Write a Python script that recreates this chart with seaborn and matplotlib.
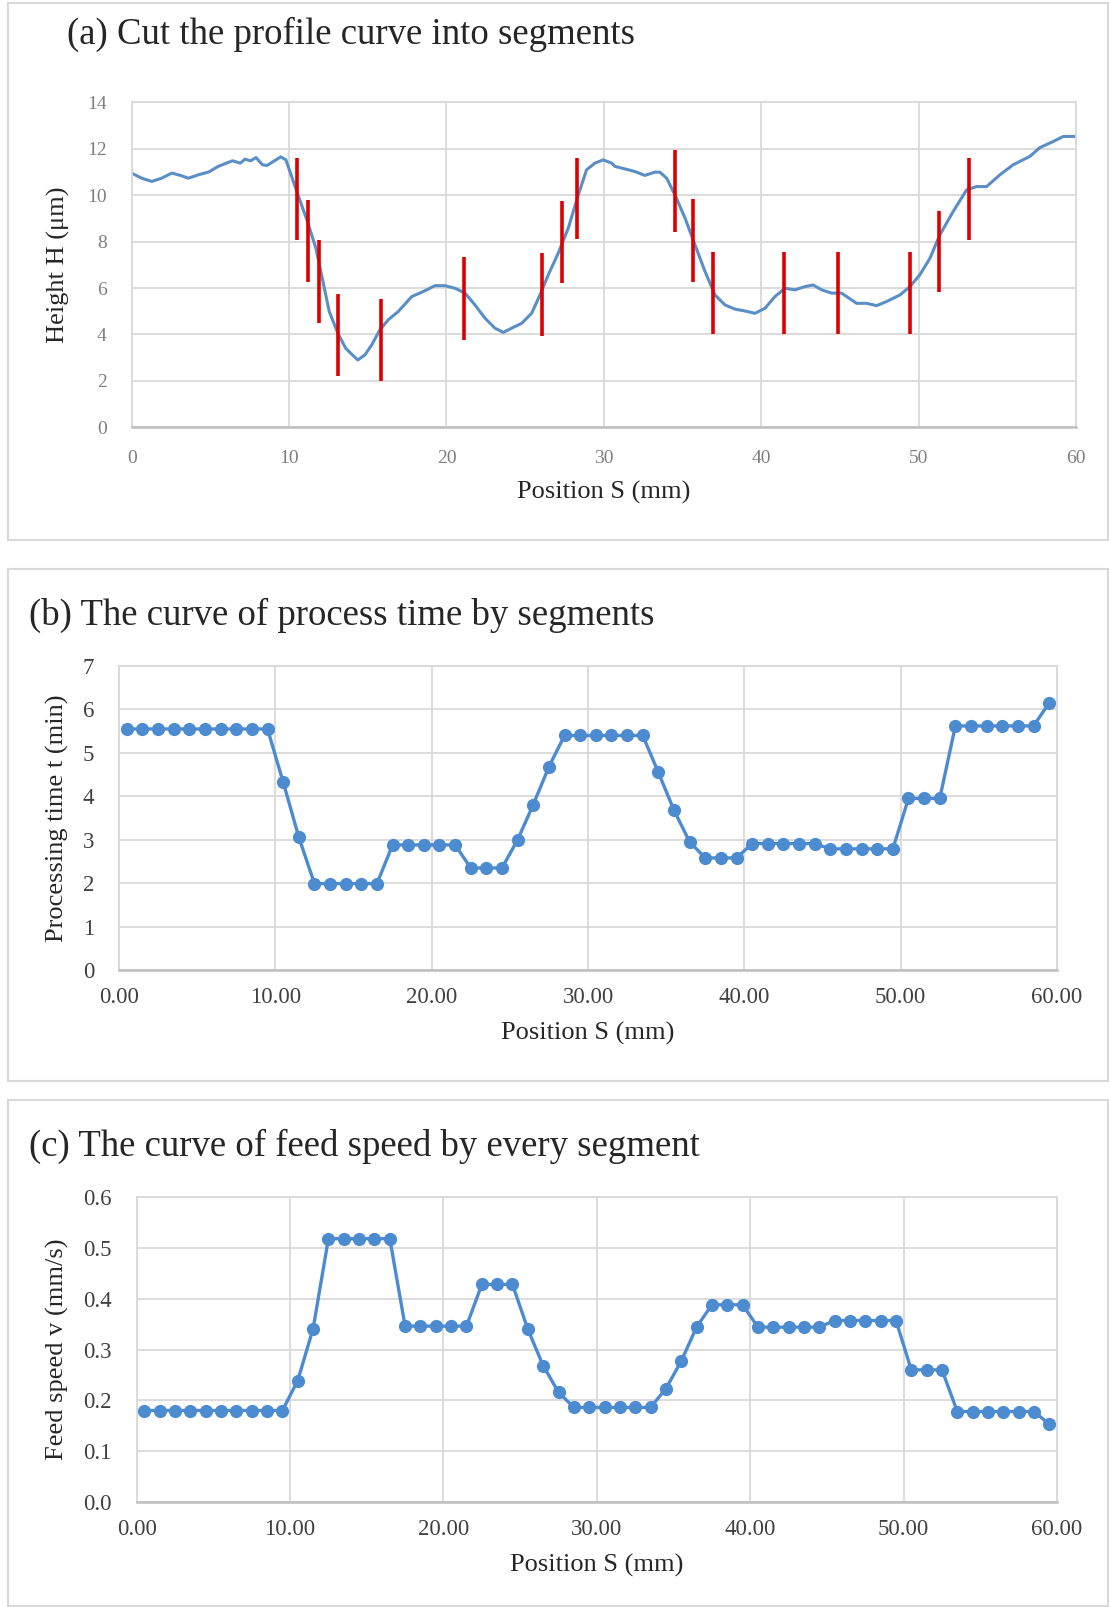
import numpy as np
import pandas as pd
import seaborn as sns
import matplotlib
matplotlib.use("Agg")
import matplotlib.pyplot as plt
from matplotlib.patches import Rectangle
from matplotlib.ticker import FormatStrFormatter, MultipleLocator

# ---------------- data ----------------
# (a) measured surface profile
profile_s = [0.0, 0.64, 1.28, 1.9, 2.55, 3.1, 3.6, 4.25, 4.9, 5.5, 6.4, 6.9, 7.2, 7.55,
             7.9, 8.3, 8.6, 9.0, 9.47, 9.8, 10.2, 10.64, 11.17, 11.7, 12.13, 12.55, 13.1,
             13.6, 14.36, 14.82, 15.25, 15.77, 16.3, 16.94, 17.79, 18.53, 19.27, 19.9,
             20.54, 21.18, 21.81, 22.45, 23.08, 23.61, 24.14, 24.78, 25.41, 25.94, 26.47,
             27.1, 27.74, 28.37, 28.9, 29.43, 29.96, 30.5, 30.7, 31.34, 31.97, 32.6,
             33.24, 33.56, 33.99, 34.52, 35.16, 35.79, 36.43, 37.06, 37.7, 38.33, 38.97,
             39.6, 40.24, 40.87, 41.51, 42.14, 42.78, 43.3, 43.84, 44.47, 45.11, 45.43,
             46.06, 46.7, 47.33, 47.97, 48.81, 49.45, 50.08, 50.72, 51.35, 52.2, 53.05,
             53.69, 54.32, 55.17, 56.01, 57.07, 57.71, 58.55, 59.19, 60.0]
profile_h = [10.95, 10.73, 10.59, 10.73, 10.95, 10.85, 10.73, 10.88, 11.0, 11.24, 11.48,
             11.38, 11.55, 11.48, 11.62, 11.31, 11.28, 11.45, 11.65, 11.52, 10.73, 9.87,
             8.86, 7.72, 6.35, 4.99, 4.05, 3.4, 2.9, 3.12, 3.55, 4.2, 4.63, 4.99, 5.63,
             5.85, 6.1, 6.1, 5.99, 5.78, 5.27, 4.7, 4.27, 4.09, 4.27, 4.48, 4.91, 5.7,
             6.57, 7.5, 8.58, 10.0, 11.09, 11.38, 11.52, 11.38, 11.24, 11.13, 11.02,
             10.85, 10.99, 10.99, 10.73, 10.01, 9.01, 7.86, 6.71, 5.7, 5.27, 5.09, 5.01,
             4.91, 5.13, 5.63, 5.99, 5.92, 6.06, 6.13, 5.92, 5.78, 5.78, 5.63, 5.34, 5.34,
             5.24, 5.42, 5.7, 6.06, 6.57, 7.28, 8.29, 9.3, 10.23, 10.37, 10.37, 10.88,
             11.31, 11.67, 12.05, 12.31, 12.53, 12.53]

# (a) segment cut marks: position, lower and upper end
cut_s = [10.52, 11.22, 11.92, 13.09, 15.84, 21.09, 26.05, 27.32, 28.29,
         34.54, 35.68, 36.91, 41.42, 44.89, 49.45, 51.31, 53.22]
cut_lo = [8.07, 6.25, 4.48, 2.21, 2.0, 3.76, 3.95, 6.21, 8.1,
          8.43, 6.25, 4.0, 4.0, 4.0, 4.0, 5.82, 8.07]
cut_hi = [11.62, 9.8, 8.05, 5.73, 5.53, 7.33, 7.5, 9.73, 11.62,
          11.95, 9.83, 7.54, 7.54, 7.54, 7.54, 9.32, 11.6]

# (b), (c) segment centres
seg_s = [0.5, 1.5, 2.5, 3.5, 4.5, 5.5, 6.5, 7.5, 8.5, 9.5,
         10.5, 11.5, 12.5, 13.5, 14.5, 15.5, 16.5, 17.5, 18.5, 19.5,
         20.5, 21.5, 22.5, 23.5, 24.5, 25.5, 26.5, 27.5, 28.5, 29.5,
         30.5, 31.5, 32.5, 33.5, 34.5, 35.5, 36.5, 37.5, 38.5, 39.5,
         40.5, 41.5, 42.5, 43.5, 44.5, 45.5, 46.5, 47.5, 48.5, 49.5,
         50.5, 51.5, 52.5, 53.5, 54.5, 55.5, 56.5, 57.5, 58.5, 59.5]

# (b) processing time per segment (min)
proc_time = [5.55, 5.55, 5.55, 5.55, 5.55, 5.55, 5.55, 5.55, 5.55, 5.55,
             4.33, 3.06, 1.99, 1.99, 1.99, 1.99, 1.99, 2.88, 2.88, 2.88,
             2.88, 2.88, 2.35, 2.35, 2.35, 3.0, 3.81, 4.68, 5.4, 5.4,
             5.4, 5.4, 5.4, 5.4, 4.55, 3.68, 2.95, 2.58, 2.58, 2.58,
             2.91, 2.91, 2.91, 2.91, 2.91, 2.79, 2.79, 2.79, 2.79, 2.79,
             3.95, 3.95, 3.95, 5.62, 5.62, 5.62, 5.62, 5.62, 5.62, 6.15]

# (c) feed speed per segment (mm/s)
feed_speed = [0.180, 0.180, 0.180, 0.180, 0.180, 0.180, 0.180, 0.180, 0.180, 0.180,
              0.239, 0.341, 0.518, 0.518, 0.518, 0.518, 0.518, 0.346, 0.346, 0.346,
              0.346, 0.346, 0.428, 0.428, 0.428, 0.340, 0.268, 0.216, 0.186, 0.186,
              0.186, 0.186, 0.186, 0.186, 0.223, 0.277, 0.344, 0.388, 0.388, 0.388,
              0.344, 0.344, 0.344, 0.344, 0.344, 0.357, 0.357, 0.357, 0.357, 0.357,
              0.260, 0.260, 0.260, 0.178, 0.178, 0.178, 0.178, 0.178, 0.178, 0.153]

# ---------------- style ----------------
sns.set_theme(style="whitegrid")
plt.rcParams["font.family"] = ["Liberation Serif", "DejaVu Serif"]

W, H = 1110, 1607
fig = plt.figure(figsize=(W / 100, H / 100), dpi=100)
fig.patch.set_facecolor("white")

GRID = "#d9d9d9"
TXT = "#262626"
TITLE_SIZE = 26.5


def px_axes(left, top, right, bottom):
    return fig.add_axes([left / W, 1 - bottom / H, (right - left) / W, (bottom - top) / H])


def style_axes(ax, tick_color, tick_size):
    ax.set_facecolor("white")
    ax.grid(True, color=GRID, linewidth=1.3)
    ax.set_axisbelow(True)
    for name, sp in ax.spines.items():
        sp.set_visible(True)
        sp.set_color(GRID)
        sp.set_linewidth(1.3)
    ax.spines["bottom"].set_color("#bfbfbf")
    ax.spines["bottom"].set_linewidth(1.8)
    ax.tick_params(axis="both", length=0, colors=tick_color, labelsize=tick_size)
    ax.tick_params(axis="x", pad=12)
    ax.tick_params(axis="y", pad=18)


def frame(top, bottom):
    fig.add_artist(Rectangle((8 / W, 1 - bottom / H), (1108 - 8) / W, (bottom - top) / H,
                             transform=fig.transFigure, fill=False,
                             edgecolor=GRID, linewidth=1.5))


frame(3, 540)
frame(569, 1081)
frame(1100, 1606)

# ---------------- (a) profile ----------------
ax_a = px_axes(131.7, 102.3, 1076, 427.3)
df_a = pd.DataFrame({"s": profile_s, "h": profile_h})
sns.lineplot(data=df_a, x="s", y="h", ax=ax_a, color="#5a8ec6", linewidth=2.2,
             sort=False, estimator=None)
ax_a.vlines(cut_s, cut_lo, cut_hi, colors="#dd0000", linewidth=2.6, zorder=3)
ax_a.set_xlim(0, 60)
ax_a.set_ylim(0, 14)
ax_a.xaxis.set_major_locator(MultipleLocator(10))
ax_a.yaxis.set_major_locator(MultipleLocator(2))
style_axes(ax_a, "#7f7f7f", 14)
ax_a.tick_params(axis="x", pad=16)
ax_a.set_xlabel("Position S (mm)", fontsize=19, color=TXT, labelpad=10)
ax_a.set_ylabel("Height H (\u03bcm)", fontsize=19, color=TXT, labelpad=12)
fig.text(67 / W, 1 - 34 / H, "(a) Cut the profile curve into segments",
         fontsize=TITLE_SIZE, color=TXT, va="center", ha="left")

# ---------------- (b) processing time ----------------
BLUE = "#4d8bd0"
ax_b = px_axes(119, 666, 1057, 970)
df_b = pd.DataFrame({"s": seg_s, "t": proc_time})
sns.lineplot(data=df_b, x="s", y="t", ax=ax_b, color=BLUE, linewidth=2.4,
             marker="o", markersize=9.5, markeredgewidth=0, sort=False, estimator=None)
ax_b.set_xlim(0, 60)
ax_b.set_ylim(0, 7)
ax_b.xaxis.set_major_locator(MultipleLocator(10))
ax_b.yaxis.set_major_locator(MultipleLocator(1))
ax_b.xaxis.set_major_formatter(FormatStrFormatter("%.2f"))
style_axes(ax_b, "#404040", 16.5)
ax_b.set_xlabel("Position S (mm)", fontsize=19, color=TXT, labelpad=10)
ax_b.set_ylabel("Processing time t (min)", fontsize=19, color=TXT, labelpad=10)
fig.text(29 / W, 1 - 615 / H, "(b) The curve of process time by segments",
         fontsize=TITLE_SIZE, color=TXT, va="center", ha="left")

# ---------------- (c) feed speed ----------------
ax_c = px_axes(136.7, 1197, 1057, 1502)
df_c = pd.DataFrame({"s": seg_s, "v": feed_speed})
sns.lineplot(data=df_c, x="s", y="v", ax=ax_c, color=BLUE, linewidth=2.4,
             marker="o", markersize=9.5, markeredgewidth=0, sort=False, estimator=None)
ax_c.set_xlim(0, 60)
ax_c.set_ylim(0, 0.6)
ax_c.xaxis.set_major_locator(MultipleLocator(10))
ax_c.yaxis.set_major_locator(MultipleLocator(0.1))
ax_c.xaxis.set_major_formatter(FormatStrFormatter("%.2f"))
ax_c.yaxis.set_major_formatter(FormatStrFormatter("%.1f"))
style_axes(ax_c, "#404040", 16.5)
ax_c.set_xlabel("Position S (mm)", fontsize=19, color=TXT, labelpad=10)
ax_c.set_ylabel("Feed speed v (mm/s)", fontsize=19, color=TXT, labelpad=10)
fig.text(29 / W, 1 - 1146 / H, "(c) The curve of feed speed by every segment",
         fontsize=TITLE_SIZE, color=TXT, va="center", ha="left")

fig.savefig("out.png", dpi=100, facecolor="white")
